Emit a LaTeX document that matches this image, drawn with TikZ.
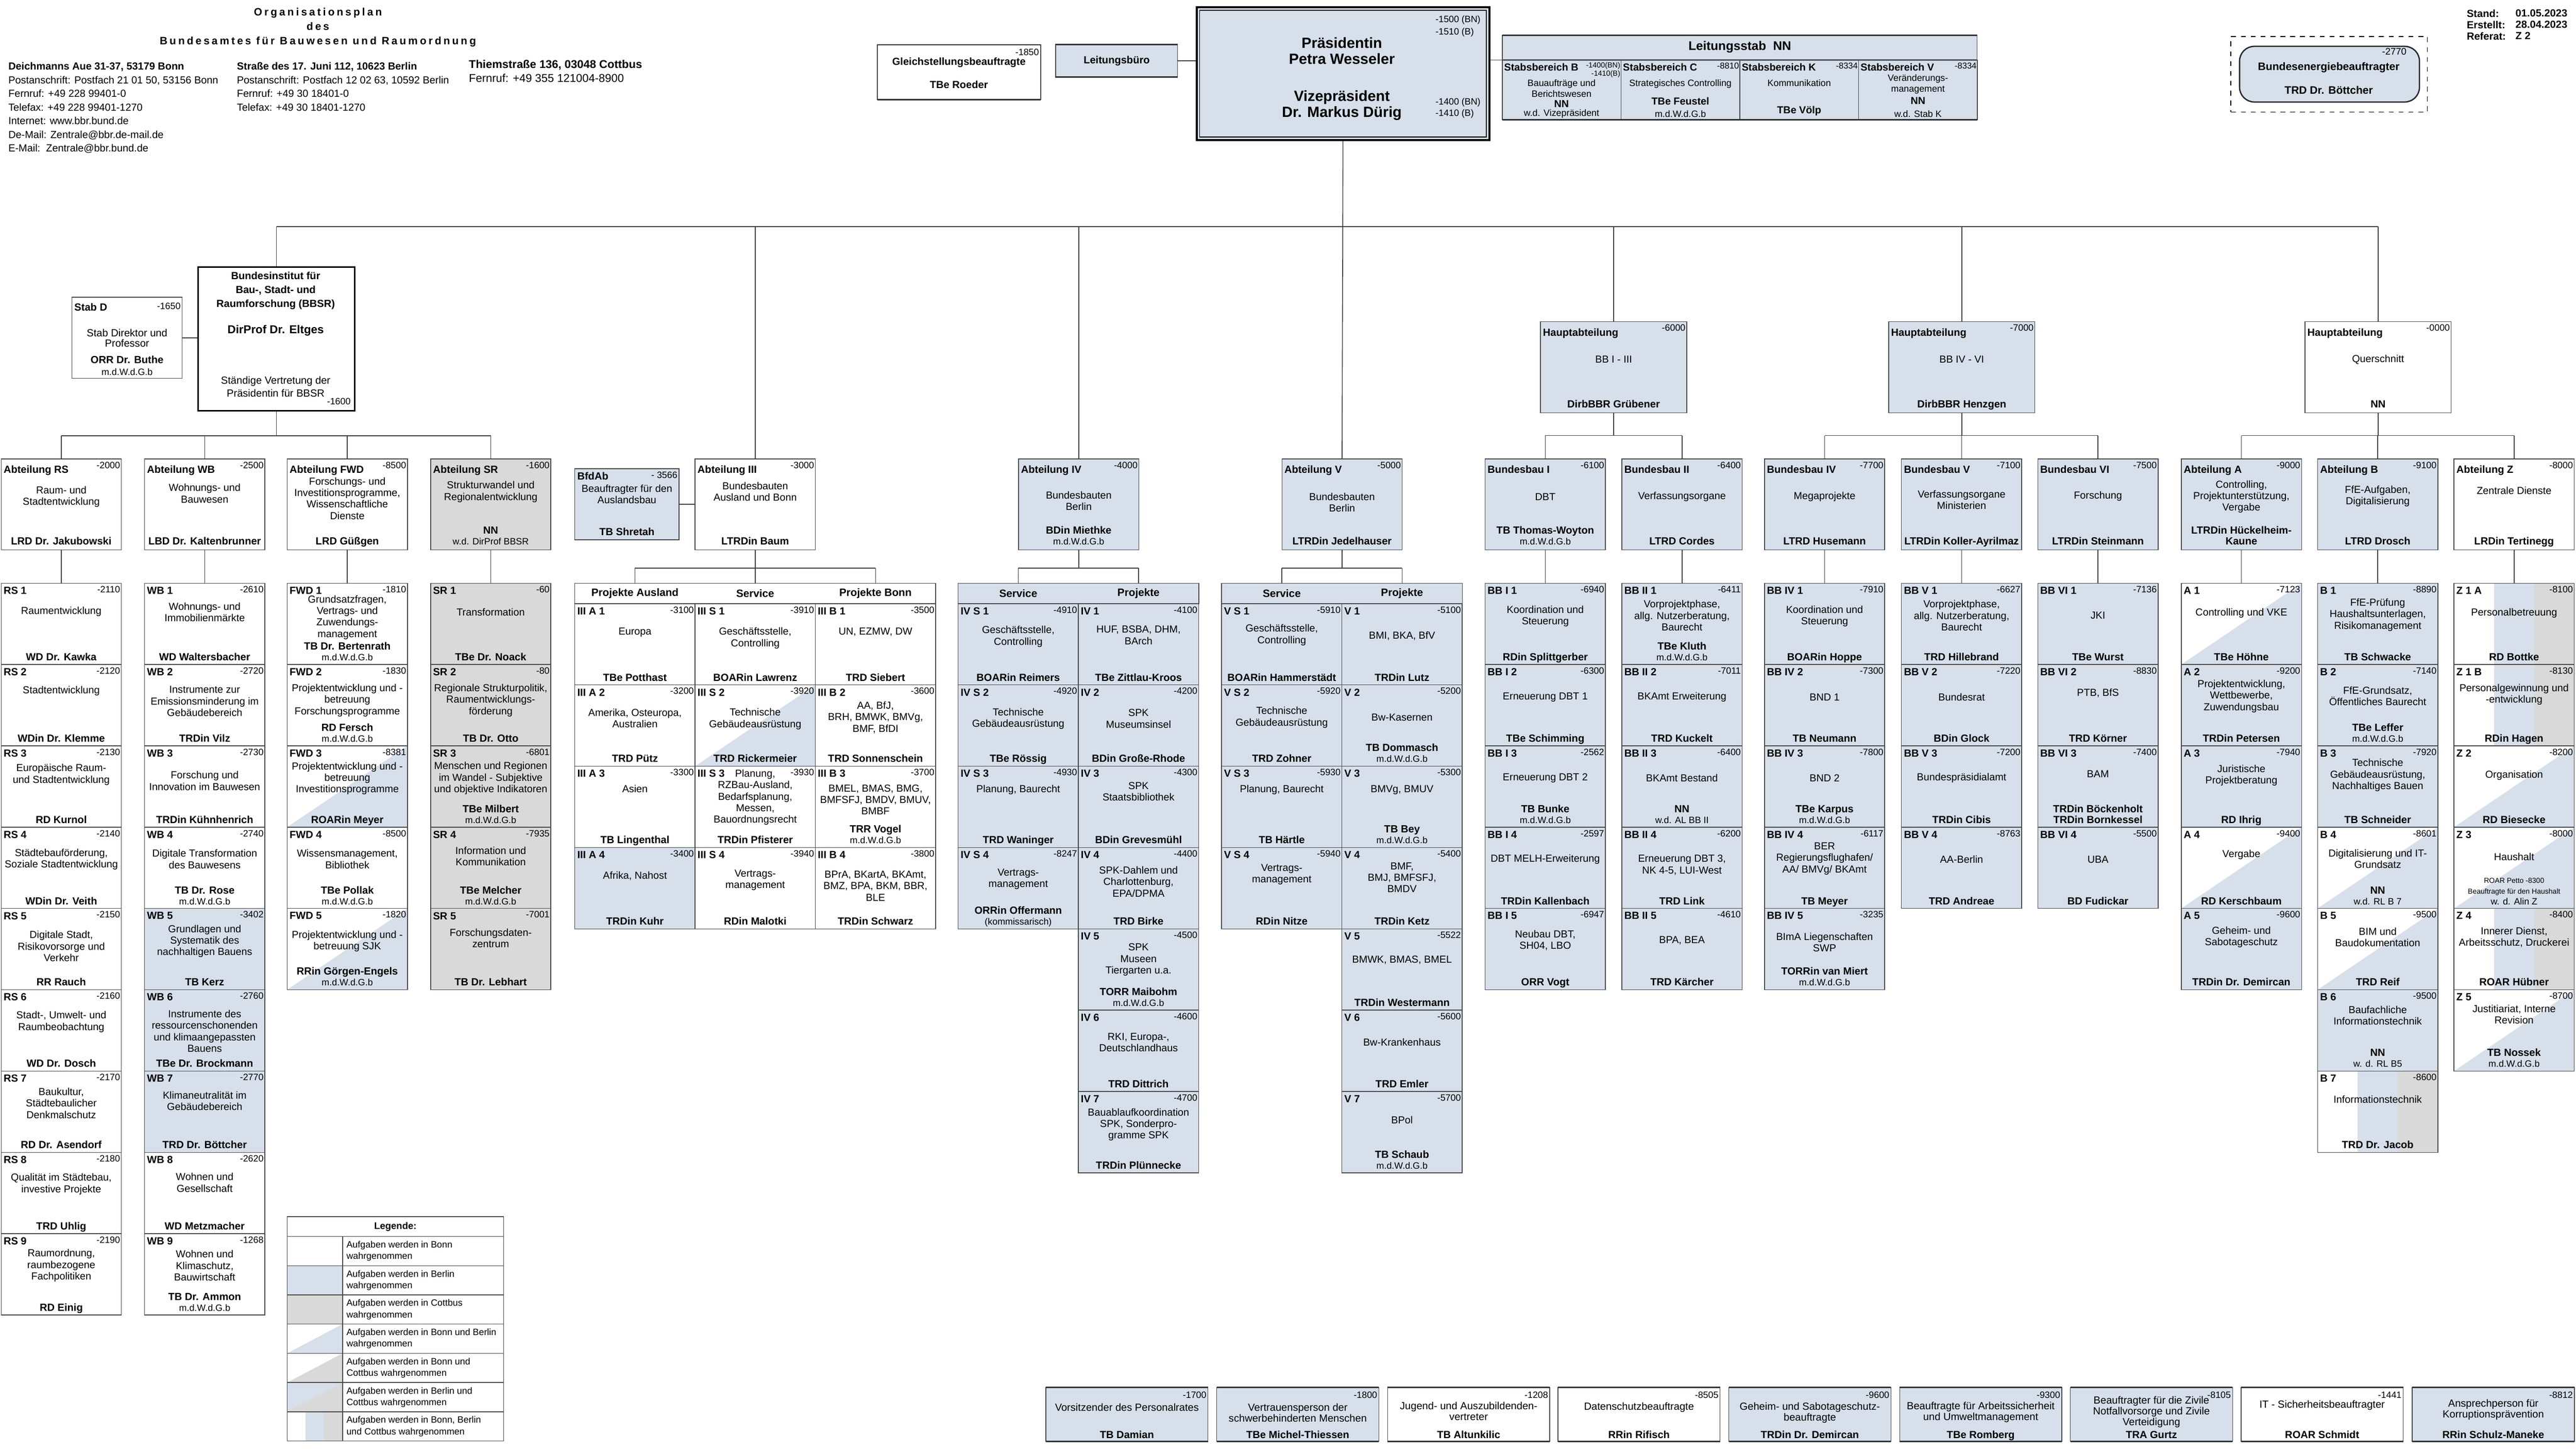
\documentclass[tikz,border=0pt]{standalone}
\usepackage{fontspec}
\setmainfont{Liberation Sans}
\usetikzlibrary{calc}
\definecolor{bfill}{HTML}{D6DFEA}
\definecolor{gfill}{HTML}{D9D9D9}
\definecolor{lc}{HTML}{4A4A4A}
\newcommand\smf{\fontsize{5.6}{6.2}\selectfont\mdseries}
\newcommand\tnf{\fontsize{4.4}{5}\selectfont\mdseries}
\newcommand\titlefont{\fontsize{6.5}{8.7}\selectfont\bfseries\addfontfeature{LetterSpace=20}}
\newcommand\bxw{73.2pt}
\newcommand\bxh{49.5pt}
\newcommand\lbly{2.1pt}
\newcommand\psy{2.2pt}
\tikzset{
 cell/.style={draw=lc,line width=0.45pt,inner sep=0pt,outer sep=0pt},
 wh/.style={fill=white},
 bl/.style={fill=bfill},
 gr/.style={fill=gfill},
 dg/.style={fill=white,path picture={\fill[bfill] (path picture bounding box.south west) -- (path picture bounding box.south east) -- (path picture bounding box.north east) -- cycle;}},
 dgr/.style={fill=white,path picture={\fill[gfill] (path picture bounding box.south west) -- (path picture bounding box.south east) -- (path picture bounding box.north east) -- cycle;}},
 bgr/.style={fill=bfill,path picture={\fill[gfill] (path picture bounding box.south west) -- (path picture bounding box.south east) -- (path picture bounding box.north east) -- cycle;}},
 st/.style={fill=white,path picture={\path (path picture bounding box.south west) coordinate (pp1) (path picture bounding box.north east) coordinate (pp2); \fill[bfill] ($(pp1)!1/3!(pp1-|pp2)$) rectangle ($(pp2)!1/3!(pp2-|pp1)$); \fill[gfill] ($(pp1)!2/3!(pp1-|pp2)$) rectangle (pp2);}},
 conn/.style={draw=black!75,line width=0.5pt},
 tbline/.style={draw=black!80,line width=0.9pt},
 lbl/.style={font=\fontsize{6.3}{7}\selectfont\bfseries,inner sep=0pt},
 num/.style={font=\fontsize{5.6}{6.3}\selectfont,inner sep=0pt},
 desc/.style={font=\fontsize{6.2}{7}\selectfont,align=center,inner sep=0pt},
 pers/.style={font=\fontsize{6.3}{6.6}\selectfont\bfseries,align=center,inner sep=0pt,anchor=south,text depth=0pt},
 hdr/.style={font=\fontsize{6.5}{7}\selectfont\bfseries,inner sep=0pt},
 sl/.style={font=\fontsize{6.2}{6.8}\selectfont\bfseries,inner sep=0pt},
 sd/.style={font=\fontsize{5.6}{6.6}\selectfont,align=center,inner sep=0pt},
 txt/.style={inner sep=0pt},
}
\newcommand\BX[9]{%
 \node[cell,#4,minimum width=\bxw,minimum height=\bxh,anchor=north west] (#1) at (#2,#3) {};
 \node[lbl,anchor=north west] (#1-l) at ([xshift=1.3pt,yshift=-\lbly]#1.north west) {#5};
 \node[num,anchor=north east] (#1-n) at ([xshift=-0.6pt,yshift=-1.6pt]#1.north east) {#6};
 \node[desc] (#1-d) at ([yshift=-#9pt]#1.north) {#7};
 \node[pers] (#1-p) at ([yshift=\psy]#1.south) {#8};
}
\newcommand\BR[7]{%
 \node[cell,#3,minimum width=98.7pt,minimum height=32.9pt,anchor=north west] (#1) at (#2,844.7) {};
 \draw[tbline] (#1.north west) -- (#1.north east) (#1.south west) -- (#1.south east);
 \node[num,anchor=north east] (#1-n) at ([xshift=-0.8pt,yshift=-2.5pt]#1.north east) {#4};
 \node[desc,font=\fontsize{6.3}{6.6}\selectfont] (#1-d) at ([yshift=-#7pt]#1.north) {#5};
 \node[pers] (#1-p) at ([yshift=1.6pt]#1.south) {#6};
}
\newcommand\LG[3]{%
 \node[cell,#2,minimum width=33.7pt,minimum height=17.79pt,anchor=north west] (lgs#1) at (174.8,{752.8+17.79*(#1-1)}) {};
 \node[cell,wh,minimum width=98pt,minimum height=17.79pt,anchor=north west] (lgx#1) at (208.5,{752.8+17.79*(#1-1)}) {};
 \node[font=\fontsize{5.6}{7}\selectfont,align=left,anchor=west,inner sep=0pt] (lgt#1) at ([xshift=2.2pt]lgx#1.west) {#3};
}
\begin{document}
\begin{tikzpicture}[x=1pt,y=-1pt]
\path[fill=white,use as bounding box] (0,0) rectangle (1568,884);

% ---------- header ----------
\node[txt,font=\titlefont,align=center] (title) at (193.5,16.6) {Organisationsplan\\des\\Bundesamtes für Bauwesen und Raumordnung};
\node[txt,font=\fontsize{6.25}{8.3}\selectfont,align=left,anchor=north west] (adr1) at (4.9,37.9) {\textbf{Deichmanns Aue 31-37, 53179 Bonn}\\Postanschrift: Postfach 21 01 50, 53156 Bonn\\Fernruf: +49 228 99401-0\\Telefax: +49 228 99401-1270\\Internet: www.bbr.bund.de\\De-Mail: Zentrale@bbr.de-mail.de\\E-Mail:\ \ Zentrale@bbr.bund.de};
\node[txt,font=\fontsize{6.25}{8.3}\selectfont,align=left,anchor=north west] (adr2) at (144,37.9) {\textbf{Straße des 17. Juni 112, 10623 Berlin}\\Postanschrift: Postfach 12 02 63, 10592 Berlin\\Fernruf: +49 30 18401-0\\Telefax: +49 30 18401-1270};
\node[txt,font=\fontsize{6.9}{8.7}\selectfont,align=left,anchor=north west] (adr3) at (285.2,36.2) {\textbf{Thiemstraße 136, 03048 Cottbus}\\Fernruf: +49 355 121004-8900};
\node[txt,font=\fontsize{6.3}{6.95}\selectfont\bfseries,align=left,anchor=north west] (stand) at (1501.3,5.6) {Stand:\\Erstellt:\\Referat:};
\node[txt,font=\fontsize{6.3}{6.95}\selectfont\bfseries,align=left,anchor=north west] (standv) at (1531,5.6) {01.05.2023\\28.04.2023\\Z 2};

% Gleichstellung
\node[cell,wh,minimum width=99.4pt,minimum height=33.4pt,anchor=north west] (gleich) at (534,27.3) {};
\draw[tbline] (gleich.north west) -- (gleich.north east) (gleich.south west) -- (gleich.south east);
\node[num,anchor=north east] (gleich-n) at ([xshift=-0.8pt,yshift=-2.2pt]gleich.north east) {-1850};
\node[lbl] (gleich-d) at (583.7,37.9) {Gleichstellungsbeauftragte};
\node[lbl] (gleich-p) at (583.7,51.5) {TBe Roeder};

% Leitungsbuero
\node[cell,bl,minimum width=74.2pt,minimum height=20pt,anchor=north west] (lbuero) at (642.6,27) {};
\draw[tbline] (lbuero.north west) -- (lbuero.north east) (lbuero.south west) -- (lbuero.south east);
\node[lbl] (lbuero-t) at (lbuero.center) {Leitungsbüro};

% Praesident
\node[fill=bfill,draw=black,line width=1.2pt,inner sep=0pt,minimum width=178.1pt,minimum height=80.7pt,anchor=north west] (praes) at (727.8,3.9) {};
\draw[line width=0.6pt] ([shift={(2.4pt,-2.4pt)}]praes.north west) rectangle ([shift={(-2.4pt,2.4pt)}]praes.south east);
\node[txt,font=\fontsize{9}{9.6}\selectfont\bfseries,align=center] (praes-a) at (816.8,31) {Präsidentin\\Petra Wesseler};
\node[txt,font=\fontsize{9}{9.6}\selectfont\bfseries,align=center] (praes-b) at (816.8,64.2) {Vizepräsident\\Dr. Markus Dürig};
\node[num,anchor=west] (praes-n1) at (873.6,12.2) {-1500 (BN)};
\node[num,anchor=west] (praes-n2) at (873.6,19.6) {-1510 (B)};
\node[num,anchor=west] (praes-n3) at (873.6,62.4) {-1400 (BN)};
\node[num,anchor=west] (praes-n4) at (873.6,69.4) {-1410 (B)};

% Leitungsstab
\node[cell,bl,minimum width=289.1pt,minimum height=51.3pt,anchor=north west] (lstab) at (914.4,21.6) {};
\node[txt,font=\fontsize{7.6}{8}\selectfont\bfseries] (lstab-t) at (1059,28.7) {Leitungsstab\ \ NN};
\node[cell,bl,minimum width=72.3pt,minimum height=36.4pt,anchor=north west] (lsB) at (914.4,36.5) {};
\node[cell,bl,minimum width=72.3pt,minimum height=36.4pt,anchor=north west] (lsC) at (986.7,36.5) {};
\node[cell,bl,minimum width=72.3pt,minimum height=36.4pt,anchor=north west] (lsK) at (1059.0,36.5) {};
\node[cell,bl,minimum width=72.3pt,minimum height=36.4pt,anchor=north west] (lsV) at (1131.3,36.5) {};
\draw[tbline] (lstab.north west) -- (lstab.north east) (lstab.south west) -- (lstab.south east);
\draw[draw=black!65,line width=0.7pt] (lsB.north west) -- (lsV.north east);
\node[sl,anchor=north west] (lsB-l) at ([xshift=1pt,yshift=-1.9pt]lsB.north west) {Stabsbereich B};
\node[txt,font=\fontsize{4.5}{4.9}\selectfont,align=right,anchor=north east] (lsB-n) at ([xshift=-0.3pt,yshift=-1.3pt]lsB.north east) {-1400(BN)\\-1410(B)};
\node[sd] (lsB-d) at (950.5,53.9) {Bauaufträge und\\Berichtswesen};
\node[sl] (lsB-p) at (950.5,63.3) {NN};
\node[sd] (lsB-s) at (950.5,69.4) {w.d. Vizepräsident};
\node[sl,anchor=north west] (lsC-l) at ([xshift=1pt,yshift=-1.9pt]lsC.north west) {Stabsbereich C};
\node[txt,font=\fontsize{5.2}{6}\selectfont,anchor=north east] (lsC-n) at ([xshift=-0.3pt,yshift=-1.6pt]lsC.north east) {-8810};
\node[sd] (lsC-d) at (1022.85,51.1) {Strategisches Controlling};
\node[sl] (lsC-p) at (1022.85,61.5) {TBe Feustel};
\node[sd] (lsC-s) at (1022.85,69.4) {m.d.W.d.G.b};
\node[sl,anchor=north west] (lsK-l) at ([xshift=1pt,yshift=-1.9pt]lsK.north west) {Stabsbereich K};
\node[txt,font=\fontsize{5.2}{6}\selectfont,anchor=north east] (lsK-n) at ([xshift=-0.3pt,yshift=-1.6pt]lsK.north east) {-8334};
\node[sd] (lsK-d) at (1095.15,50.6) {Kommunikation};
\node[sl] (lsK-p) at (1095.15,67.6) {TBe Völp};
\node[sl,anchor=north west] (lsV-l) at ([xshift=1pt,yshift=-1.9pt]lsV.north west) {Stabsbereich V};
\node[txt,font=\fontsize{5.2}{6}\selectfont,anchor=north east] (lsV-n) at ([xshift=-0.3pt,yshift=-1.6pt]lsV.north east) {-8334};
\node[sd] (lsV-d) at (1167.45,51.3) {Veränderungs-\\management};
\node[sl] (lsV-p) at (1167.45,61.5) {NN};
\node[sd] (lsV-s) at (1167.45,69.4) {w.d. Stab K};

% Bundesenergiebeauftragter
\node[draw=black,dashed,line width=0.6pt,inner sep=0pt,minimum width=119.5pt,minimum height=46pt,anchor=north west] (bebf) at (1357.7,21.9) {};
\node[fill=bfill,draw=black!85,line width=0.8pt,rounded corners=9pt,inner sep=0pt,minimum width=109.5pt,minimum height=33.9pt,anchor=north west] (beb) at (1362.8,27.8) {};
\node[txt,font=\fontsize{5.8}{6.5}\selectfont,anchor=east] (beb-n) at (1465,31.4) {-2770};
\node[txt,font=\fontsize{6.6}{7}\selectfont\bfseries] (beb-d) at (1417.5,41) {Bundesenergiebeauftragter};
\node[txt,font=\fontsize{6.6}{7}\selectfont\bfseries] (beb-p) at (1417.5,55) {TRD Dr. Böttcher};

% ---------- BBSR ----------
\node[fill=white,draw=black,line width=1pt,inner sep=0pt,minimum width=95.4pt,minimum height=87.5pt,anchor=north west] (bbsr) at (120.1,162) {};
\node[txt,font=\fontsize{6.3}{8.4}\selectfont\bfseries,align=center] (bbsr-a) at (167.8,177) {Bundesinstitut für\\Bau-, Stadt- und\\Raumforschung (BBSR)};
\node[txt,font=\fontsize{7}{8}\selectfont\bfseries] (bbsr-b) at (167.8,201.4) {DirProf Dr. Eltges};
\node[txt,font=\fontsize{6.3}{7.9}\selectfont,align=center] (bbsr-c) at (167.8,235.4) {Ständige Vertretung der\\Präsidentin für BBSR};
\node[num,anchor=east] (bbsr-n) at (213.6,244.3) {-1600};

\node[cell,wh,minimum width=67.1pt,minimum height=49.4pt,anchor=north west] (stabD) at (43.8,181) {};
\node[lbl,anchor=north west] (stabD-l) at ([xshift=1.3pt,yshift=-3.4pt]stabD.north west) {Stab D};
\node[num,anchor=north east] (stabD-n) at ([xshift=-0.8pt,yshift=-3.2pt]stabD.north east) {-1650};
\node[desc,font=\fontsize{6.3}{6.3}\selectfont] (stabD-d) at (77.35,205.8) {Stab Direktor und\\Professor};
\node[lbl] (stabD-p) at (77.35,219) {ORR Dr. Buthe};
\node[txt,font=\smf] (stabD-s) at (77.35,226.5) {m.d.W.d.G.b};

% ---------- BfdAb ----------
\node[cell,bl,minimum width=63.4pt,minimum height=43.2pt,anchor=north west] (bfdab) at (349.9,285.4) {};
\node[lbl,anchor=north west] (bfdab-l) at ([xshift=1.3pt,yshift=-1.9pt]bfdab.north west) {BfdAb};
\node[num,anchor=north east] (bfdab-n) at ([xshift=-0.8pt,yshift=-1.6pt]bfdab.north east) {- 3566};
\node[desc] (bfdab-d) at (381.6,300.9) {Beauftragter für den\\Auslandsbau};
\node[lbl] (bfdab-p) at (381.6,323.6) {TB Shretah};

% ---------- Abteilungen ----------
\renewcommand\bxh{55.3pt}\renewcommand\lbly{3.9pt}\renewcommand\psy{3pt}
\BX{abtRS}{0.7}{279.4}{wh}{Abteilung RS}{-2000}{Raum- und\\Stadtentwicklung}{LRD Dr. Jakubowski}{23}
\BX{abtWB}{88.0}{279.4}{wh}{Abteilung WB}{-2500}{Wohnungs- und\\Bauwesen}{LBD Dr. Kaltenbrunner}{21}
\BX{abtFWD}{174.8}{279.4}{wh}{Abteilung FWD}{-8500}{Forschungs- und\\Investitionsprogramme,\\Wissenschaftliche\\Dienste}{LRD Güßgen}{24}
\BX{abtSR}{262.1}{279.4}{gr}{Abteilung SR}{-1600}{Strukturwandel und\\Regionalentwicklung}{NN\\{\smf w.d. DirProf BBSR}}{20}
\BX{abtIII}{423.1}{279.4}{wh}{Abteilung III}{-3000}{Bundesbauten\\Ausland und Bonn}{LTRDin Baum}{20}
\BX{abtIV}{620.0}{279.4}{bl}{Abteilung IV}{-4000}{Bundesbauten\\Berlin}{BDin Miethke\\{\smf m.d.W.d.G.b}}{25.5}
\BX{abtV}{780.3}{279.4}{bl}{Abteilung V}{-5000}{Bundesbauten\\Berlin}{LTRDin Jedelhauser}{26.5}
\BX{bb1}{904.0}{279.4}{bl}{Bundesbau I}{-6100}{DBT}{TB Thomas-Woyton\\{\smf m.d.W.d.G.b}}{23}
\BX{bb2}{987.2}{279.4}{bl}{Bundesbau II}{-6400}{Verfassungsorgane}{LTRD Cordes}{23}
\BX{bb4}{1074.0}{279.4}{bl}{Bundesbau IV}{-7700}{Megaprojekte}{LTRD Husemann}{23}
\BX{bb5}{1157.4}{279.4}{bl}{Bundesbau V}{-7100}{Verfassungsorgane\\Ministerien}{LTRDin Koller-Ayrilmaz}{25}
\BX{bb6}{1240.4}{279.4}{bl}{Bundesbau VI}{-7500}{Forschung}{LTRDin Steinmann}{22.8}
\BX{abtA}{1327.7}{279.4}{bl}{Abteilung A}{-9000}{Controlling,\\Projektunterstützung,\\Vergabe}{LTRDin Hückelheim-\\Kaune}{23}
\BX{abtB}{1410.7}{279.4}{bl}{Abteilung B}{-9100}{FfE-Aufgaben,\\Digitalisierung}{LTRD Drosch}{22.8}
\BX{abtZ}{1493.7}{279.4}{wh}{Abteilung Z}{-8000}{Zentrale Dienste}{LRDin Tertinegg}{19.3}

\renewcommand\bxw{89pt}\renewcommand\bxh{55.5pt}
\BX{ha1}{937.7}{195.8}{bl}{Hauptabteilung}{-6000}{BB I - III}{DirbBBR Grübener}{23}
\BX{ha2}{1149.6}{195.8}{bl}{Hauptabteilung}{-7000}{BB IV - VI}{DirbBBR Henzgen}{23}
\BX{qs}{1403.0}{195.8}{wh}{Hauptabteilung}{-0000}{Querschnitt}{NN}{23}

% ---------- Referate ----------
\renewcommand\bxw{73.2pt}\renewcommand\bxh{49.5pt}\renewcommand\lbly{2.1pt}\renewcommand\psy{2.2pt}
\BX{RS1}{0.7}{355.1}{wh}{RS 1}{-2110}{Raumentwicklung}{WD Dr. Kawka}{17.3}
\BX{RS2}{0.7}{404.6}{wh}{RS 2}{-2120}{Stadtentwicklung}{WDin Dr. Klemme}{16}
\BX{RS3}{0.7}{454.1}{wh}{RS 3}{-2130}{Europäische Raum-\\und Stadtentwicklung}{RD Kurnol}{17.5}
\BX{RS4}{0.7}{503.6}{wh}{RS 4}{-2140}{Städtebauförderung,\\Soziale Stadtentwicklung}{WDin Dr. Veith}{19.5}
\BX{RS5}{0.7}{553.1}{wh}{RS 5}{-2150}{Digitale Stadt,\\Risikovorsorge und\\Verkehr}{RR Rauch}{23}
\BX{RS6}{0.7}{602.6}{wh}{RS 6}{-2160}{Stadt-, Umwelt- und\\Raumbeobachtung}{WD Dr. Dosch}{19.5}
\BX{RS7}{0.7}{652.1}{wh}{RS 7}{-2170}{Baukultur,\\Städtebaulicher\\Denkmalschutz}{RD Dr. Asendorf}{19.5}
\BX{RS8}{0.7}{701.6}{wh}{RS 8}{-2180}{Qualität im Städtebau,\\investive Projekte}{TRD Uhlig}{19.3}
\BX{RS9}{0.7}{751.1}{wh}{RS 9}{-2190}{Raumordnung,\\raumbezogene\\Fachpolitiken}{RD Einig}{19.4}

\BX{WB1}{88.0}{355.1}{wh}{WB 1}{-2610}{Wohnungs- und\\Immobilienmärkte}{WD Waltersbacher}{17.5}
\BX{WB2}{88.0}{404.6}{wh}{WB 2}{-2720}{Instrumente zur\\Emissionsminderung im\\Gebäudebereich}{TRDin Vilz}{22.3}
\BX{WB3}{88.0}{454.1}{wh}{WB 3}{-2730}{Forschung und\\Innovation im Bauwesen}{TRDin Kühnhenrich}{21.3}
\BX{WB4}{88.0}{503.6}{wh}{WB 4}{-2740}{Digitale Transformation\\des Bauwesens}{TB Dr. Rose\\{\smf m.d.W.d.G.b}}{19.5}
\BX{WB5}{88.0}{553.1}{bl}{WB 5}{-3402}{Grundlagen und\\Systematik des\\nachhaltigen Bauens}{TB Kerz}{20}
\BX{WB6}{88.0}{602.6}{bl}{WB 6}{-2760}{Instrumente des\\ressourcenschonenden\\und klimaangepassten\\Bauens}{TBe Dr. Brockmann}{25.2}
\BX{WB7}{88.0}{652.1}{bl}{WB 7}{-2770}{Klimaneutralität im\\Gebäudebereich}{TRD Dr. Böttcher}{18.2}
\BX{WB8}{88.0}{701.6}{wh}{WB 8}{-2620}{Wohnen und\\Gesellschaft}{WD Metzmacher}{18.4}
\BX{WB9}{88.0}{751.1}{wh}{WB 9}{-1268}{Wohnen und\\Klimaschutz,\\Bauwirtschaft}{TB Dr. Ammon\\{\smf m.d.W.d.G.b}}{19.4}

\BX{FWD1}{174.8}{355.1}{wh}{FWD 1}{-1810}{Grundsatzfragen,\\Vertrags- und\\Zuwendungs-\\management}{TB Dr. Bertenrath\\{\smf m.d.W.d.G.b}}{20.8}
\BX{FWD2}{174.8}{404.6}{wh}{FWD 2}{-1830}{Projektentwicklung und -\\betreuung\\Forschungsprogramme}{RD Fersch\\{\smf m.d.W.d.G.b}}{21.8}
\BX{FWD3}{174.8}{454.1}{dg}{FWD 3}{-8381}{Projektentwicklung und -\\betreuung\\Investitionsprogramme}{ROARin Meyer}{19.9}
\BX{FWD4}{174.8}{503.6}{wh}{FWD 4}{-8500}{Wissensmanagement,\\Bibliothek}{TBe Pollak\\{\smf m.d.W.d.G.b}}{19.5}
\BX{FWD5}{174.8}{553.1}{dg}{FWD 5}{-1820}{Projektentwicklung und -\\betreuung SJK}{RRin Görgen-Engels\\{\smf m.d.W.d.G.b}}{19.9}

\BX{SR1}{262.1}{355.1}{gr}{SR 1}{-60}{Transformation}{TBe Dr. Noack}{17.5}
\BX{SR2}{262.1}{404.6}{gr}{SR 2}{-80}{Regionale Strukturpolitik,\\Raumentwicklungs-\\förderung}{TB Dr. Otto}{21.8}
\BX{SR3}{262.1}{454.1}{gr}{SR 3}{-6801}{Menschen und Regionen\\im Wandel - Subjektive\\und objektive Indikatoren}{TBe Milbert\\{\smf m.d.W.d.G.b}}{19.8}
\BX{SR4}{262.1}{503.6}{gr}{SR 4}{-7935}{Information und\\Kommunikation}{TBe Melcher\\{\smf m.d.W.d.G.b}}{17.8}
\BX{SR5}{262.1}{553.1}{gr}{SR 5}{-7001}{Forschungsdaten-\\zentrum}{TB Dr. Lebhart}{18}

% III table
\node[cell,wh,minimum width=219.6pt,minimum height=12.4pt,anchor=north west] (hdIII) at (349.9,355.1) {};
\node[hdr] (hdIII-a) at (386.5,361.3) {Projekte Ausland};
\node[hdr] (hdIII-b) at (459.7,361.3) {Service};
\node[hdr] (hdIII-c) at (532.9,361.3) {Projekte Bonn};
\BX{IIIA1}{349.9}{367.5}{wh}{III A 1}{-3100}{Europa}{TBe Potthast}{17.6}
\BX{IIIA2}{349.9}{417.0}{wh}{III A 2}{-3200}{Amerika, Osteuropa,\\Australien}{TRD Pütz}{20.3}
\BX{IIIA3}{349.9}{466.5}{wh}{III A 3}{-3300}{Asien}{TB Lingenthal}{13.6}
\BX{IIIA4}{349.9}{516.0}{bl}{III A 4}{-3400}{Afrika, Nahost}{TRDin Kuhr}{17.2}
\BX{IIIS1}{423.1}{367.5}{wh}{III S 1}{-3910}{Geschäftsstelle,\\Controlling}{BOARin Lawrenz}{21}
\BX{IIIS2}{423.1}{417.0}{dg}{III S 2}{-3920}{Technische\\Gebäudeausrüstung}{TRD Rickermeier}{20.7}
\BX{IIIS3}{423.1}{466.5}{wh}{III S 3}{-3930}{Planung,\\RZBau-Ausland,\\Bedarfsplanung,\\Messen,\\Bauordnungsrecht}{TRDin Pfisterer}{19}
\BX{IIIS4}{423.1}{516.0}{wh}{III S 4}{-3940}{Vertrags-\\management}{RDin Malotki}{19.9}
\BX{IIIB1}{496.3}{367.5}{wh}{III B 1}{-3500}{UN, EZMW, DW}{TRD Siebert}{17.2}
\BX{IIIB2}{496.3}{417.0}{wh}{III B 2}{-3600}{AA, BfJ,\\BRH, BMWK, BMVg,\\BMF, BfDI}{TRD Sonnenschein}{19.8}
\BX{IIIB3}{496.3}{466.5}{wh}{III B 3}{-3700}{BMEL, BMAS, BMG,\\BMFSFJ, BMDV, BMUV,\\BMBF}{TRR Vogel\\{\smf m.d.W.d.G.b}}{20.4}
\BX{IIIB4}{496.3}{516.0}{wh}{III B 4}{-3800}{BPrA, BKartA, BKAmt,\\BMZ, BPA, BKM, BBR,\\BLE}{TRDin Schwarz}{23.4}

% IV table
\node[cell,bl,minimum width=146.6pt,minimum height=12.4pt,anchor=north west] (hdIV) at (583.2,355.1) {};
\node[hdr] (hdIV-a) at (619.8,361.3) {Service};
\node[hdr] (hdIV-b) at (693.0,361.3) {Projekte};
\BX{IVS1}{583.2}{367.5}{bl}{IV S 1}{-4910}{Geschäftsstelle,\\Controlling}{BOARin Reimers}{20.1}
\BX{IVS2}{583.2}{417.0}{bl}{IV S 2}{-4920}{Technische\\Gebäudeausrüstung}{TBe Rössig}{20.5}
\BX{IVS3}{583.2}{466.5}{bl}{IV S 3}{-4930}{Planung, Baurecht}{TRD Waninger}{14.4}
\BX{IVS4}{583.2}{516.0}{bl}{IV S 4}{-8247}{Vertrags-\\management}{ORRin Offermann\\{\smf (kommissarisch)}}{19.3}
\BX{IV1}{656.4}{367.5}{bl}{IV 1}{-4100}{HUF, BSBA, DHM,\\BArch}{TBe Zittlau-Kroos}{19.2}
\BX{IV2}{656.4}{417.0}{bl}{IV 2}{-4200}{SPK\\Museumsinsel}{BDin Große-Rhode}{20.5}
\BX{IV3}{656.4}{466.5}{bl}{IV 3}{-4300}{SPK\\Staatsbibliothek}{BDin Grevesmühl}{15.5}
\BX{IV4}{656.4}{516.0}{bl}{IV 4}{-4400}{SPK-Dahlem und\\Charlottenburg,\\EPA/DPMA}{TRD Birke}{20.8}
\BX{IV5}{656.4}{565.5}{bl}{IV 5}{-4500}{SPK\\Museen\\Tiergarten u.a.}{TORR Maibohm\\{\smf m.d.W.d.G.b}}{18.8}
\BX{IV6}{656.4}{615.0}{bl}{IV 6}{-4600}{RKI, Europa-,\\Deutschlandhaus}{TRD Dittrich}{19.6}
\BX{IV7}{656.4}{664.5}{bl}{IV 7}{-4700}{Bauablaufkoordination\\SPK, Sonderpro-\\gramme SPK}{TRDin Plünnecke}{20.2}

% V table
\node[cell,bl,minimum width=146.6pt,minimum height=12.4pt,anchor=north west] (hdV) at (743.6,355.1) {};
\node[hdr] (hdV-a) at (780.2,361.3) {Service};
\node[hdr] (hdV-b) at (853.4,361.3) {Projekte};
\BX{VS1}{743.6}{367.5}{bl}{V S 1}{-5910}{Geschäftsstelle,\\Controlling}{BOARin Hammerstädt}{19.1}
\BX{VS2}{743.6}{417.0}{bl}{V S 2}{-5920}{Technische\\Gebäudeausrüstung}{TRD Zohner}{19.8}
\BX{VS3}{743.6}{466.5}{bl}{V S 3}{-5930}{Planung, Baurecht}{TB Härtle}{14.4}
\BX{VS4}{743.6}{516.0}{bl}{V S 4}{-5940}{Vertrags-\\management}{RDin Nitze}{16.3}
\BX{V1}{816.8}{367.5}{bl}{V 1}{-5100}{BMI, BKA, BfV}{TRDin Lutz}{19.8}
\BX{V2}{816.8}{417.0}{bl}{V 2}{-5200}{Bw-Kasernen}{TB Dommasch\\{\smf m.d.W.d.G.b}}{19.7}
\BX{V3}{816.8}{466.5}{bl}{V 3}{-5300}{BMVg, BMUV}{TB Bey\\{\smf m.d.W.d.G.b}}{14.4}
\BX{V4}{816.8}{516.0}{bl}{V 4}{-5400}{BMF,\\BMJ, BMFSFJ,\\BMDV}{TRDin Ketz}{18.3}
\BX{V5}{816.8}{565.5}{bl}{V 5}{-5522}{BMWK, BMAS, BMEL}{TRDin Westermann}{19.1}
\BX{V6}{816.8}{615.0}{bl}{V 6}{-5600}{Bw-Krankenhaus}{TRD Emler}{19.6}
\BX{V7}{816.8}{664.5}{bl}{V 7}{-5700}{BPol}{TB Schaub\\{\smf m.d.W.d.G.b}}{17.5}

% BB
\BX{BBI1}{904.0}{355.1}{bl}{BB I 1}{-6940}{Koordination und\\Steuerung}{RDin Splittgerber}{20}
\BX{BBI2}{904.0}{404.6}{bl}{BB I 2}{-6300}{Erneuerung DBT 1}{TBe Schimming}{19.8}
\BX{BBI3}{904.0}{454.1}{bl}{BB I 3}{-2562}{Erneuerung DBT 2}{TB Bunke\\{\smf m.d.W.d.G.b}}{19.5}
\BX{BBI4}{904.0}{503.6}{bl}{BB I 4}{-2597}{DBT MELH-Erweiterung}{TRDin Kallenbach}{19.5}
\BX{BBI5}{904.0}{553.1}{bl}{BB I 5}{-6947}{Neubau DBT,\\SH04, LBO}{ORR Vogt}{19.4}
\BX{BBII1}{987.2}{355.1}{bl}{BB II 1}{-6411}{Vorprojektphase,\\allg. Nutzerberatung,\\Baurecht}{TBe Kluth\\{\smf m.d.W.d.G.b}}{19.7}
\BX{BBII2}{987.2}{404.6}{bl}{BB II 2}{-7011}{BKAmt Erweiterung}{TRD Kuckelt}{19.8}
\BX{BBII3}{987.2}{454.1}{bl}{BB II 3}{-6400}{BKAmt Bestand}{NN\\{\smf w.d. AL BB II}}{19.5}
\BX{BBII4}{987.2}{503.6}{bl}{BB II 4}{-6200}{Erneuerung DBT 3,\\NK 4-5, LUI-West}{TRD Link}{23}
\BX{BBII5}{987.2}{553.1}{bl}{BB II 5}{-4610}{BPA, BEA}{TRD Kärcher}{19.5}
\BX{BBIV1}{1074.0}{355.1}{bl}{BB IV 1}{-7910}{Koordination und\\Steuerung}{BOARin Hoppe}{20}
\BX{BBIV2}{1074.0}{404.6}{bl}{BB IV 2}{-7300}{BND 1}{TB Neumann}{19.8}
\BX{BBIV3}{1074.0}{454.1}{bl}{BB IV 3}{-7800}{BND 2}{TBe Karpus\\{\smf m.d.W.d.G.b}}{19.5}
\BX{BBIV4}{1074.0}{503.6}{bl}{BB IV 4}{-6117}{BER\\Regierungsflughafen/\\AA/ BMVg/ BKAmt}{TB Meyer}{19.2}
\BX{BBIV5}{1074.0}{553.1}{bl}{BB IV 5}{-3235}{BImA Liegenschaften\\SWP}{TORRin van Miert\\{\smf m.d.W.d.G.b}}{20.7}
\BX{BBV1}{1157.4}{355.1}{bl}{BB V 1}{-6627}{Vorprojektphase,\\allg. Nutzerberatung,\\Baurecht}{TRD Hillebrand}{19.7}
\BX{BBV2}{1157.4}{404.6}{bl}{BB V 2}{-7220}{Bundesrat}{BDin Glock}{19.8}
\BX{BBV3}{1157.4}{454.1}{bl}{BB V 3}{-7200}{Bundespräsidialamt}{TRDin Cibis}{19.5}
\BX{BBV4}{1157.4}{503.6}{bl}{BB V 4}{-8763}{AA-Berlin}{TRD Andreae}{19.5}
\BX{BBVI1}{1240.4}{355.1}{bl}{BB VI 1}{-7136}{JKI}{TBe Wurst}{19.6}
\BX{BBVI2}{1240.4}{404.6}{bl}{BB VI 2}{-8830}{PTB, BfS}{TRD Körner}{17.5}
\BX{BBVI3}{1240.4}{454.1}{bl}{BB VI 3}{-7400}{BAM}{TRDin Böckenholt\\TRDin Bornkessel}{17}
\BX{BBVI4}{1240.4}{503.6}{bl}{BB VI 4}{-5500}{UBA}{BD Fudickar}{19.6}

% A B Z
\BX{A1}{1327.7}{355.1}{dg}{A 1}{-7123}{Controlling und VKE}{TBe Höhne}{18.3}
\BX{A2}{1327.7}{404.6}{bl}{A 2}{-9200}{Projektentwicklung,\\Wettbewerbe,\\Zuwendungsbau}{TRDin Petersen}{19.3}
\BX{A3}{1327.7}{454.1}{bl}{A 3}{-7940}{Juristische\\Projektberatung}{RD Ihrig}{17.9}
\BX{A4}{1327.7}{503.6}{dg}{A 4}{-9400}{Vergabe}{RD Kerschbaum}{16.8}
\BX{A5}{1327.7}{553.1}{bl}{A 5}{-9600}{Geheim- und\\Sabotageschutz}{TRDin Dr. Demircan}{17.4}
\BX{B1}{1410.7}{355.1}{bl}{B 1}{-8890}{FfE-Prüfung\\Haushaltsunterlagen,\\Risikomanagement}{TB Schwacke}{19.2}
\BX{B2}{1410.7}{404.6}{bl}{B 2}{-7140}{FfE-Grundsatz,\\Öffentliches Baurecht}{TBe Leffer\\{\smf m.d.W.d.G.b}}{19.1}
\BX{B3}{1410.7}{454.1}{bl}{B 3}{-7920}{Technische\\Gebäudeausrüstung,\\Nachhaltiges Bauen}{TB Schneider}{17.9}
\BX{B4}{1410.7}{503.6}{dg}{B 4}{-8601}{Digitalisierung und IT-\\Grundsatz}{NN\\{\smf w.d. RL B 7}}{19.4}
\BX{B5}{1410.7}{553.1}{dg}{B 5}{-9500}{BIM und\\Baudokumentation}{TRD Reif}{17.4}
\BX{B6}{1410.7}{602.6}{bl}{B 6}{-9500}{Baufachliche\\Informationstechnik}{NN\\{\smf w. d. RL B5}}{15.6}
\BX{B7}{1410.7}{652.1}{st}{B 7}{-8600}{Informationstechnik}{TRD Dr. Jacob}{17.4}
\BX{Z1A}{1493.7}{355.1}{st}{Z 1 A}{-8100}{Personalbetreuung}{RD Bottke}{18.3}
\BX{Z1B}{1493.7}{404.6}{st}{Z 1 B}{-8130}{Personalgewinnung und\\-entwicklung}{RDin Hagen}{18.3}
\BX{Z2}{1493.7}{454.1}{dg}{Z 2}{-8200}{Organisation}{RD Biesecke}{17.9}
\BX{Z3}{1493.7}{503.6}{dg}{Z 3}{-8000}{Haushalt}{{\tnf ROAR Petto -8300}\\{\tnf Beauftragte für den Haushalt}\\{\smf w. d. Alin Z}}{17.9}
\BX{Z4}{1493.7}{553.1}{st}{Z 4}{-8400}{Innerer Dienst,\\Arbeitsschutz, Druckerei}{ROAR Hübner}{17.6}
\BX{Z5}{1493.7}{602.6}{dg}{Z 5}{-8700}{Justitiariat, Interne\\Revision}{TB Nossek\\{\smf m.d.W.d.G.b}}{15.1}

% ---------- connectors ----------
\coordinate (busM) at (0,138);
\coordinate (busB) at (0,265.3);
\coordinate (bus3) at (0,345.9);
\coordinate (busH) at (0,265.2);
\draw[conn] (praes.south) -- (abtV.north);
\draw[conn] (bbsr.north |- busM) -- (qs.north |- busM);
\foreach \n in {bbsr,abtIII,abtIV,ha1,ha2,qs} \draw[conn] (\n.north) -- (\n.north |- busM);
\draw[conn] (lbuero.east) -- (lbuero.east -| praes.west);
\draw[conn] (lsB.north west) -- (lsB.north west -| praes.east);
\draw[conn] (stabD.east) -- (stabD.east -| bbsr.west);
\draw[conn] (bbsr.south) -- (bbsr.south |- busB);
\draw[conn] (abtRS.north |- busB) -- (abtSR.north |- busB);
\foreach \n in {abtRS,abtWB,abtFWD,abtSR} \draw[conn] (\n.north) -- (\n.north |- busB);
\foreach \a/\b in {abtRS/RS1,abtWB/WB1,abtFWD/FWD1,abtSR/SR1,bb1/BBI1,bb2/BBII1,bb4/BBIV1,bb5/BBV1,bb6/BBVI1,abtA/A1,abtB/B1,abtZ/Z1A} \draw[conn] (\a.south) -- (\b.north);
\draw[conn] (bfdab.east) -- (bfdab.east -| abtIII.west);
\draw[conn] (abtIII.south) -- (abtIII.south |- bus3);
\draw[conn] (IIIA1.north |- bus3) -- (IIIB1.north |- bus3);
\foreach \n in {IIIA1,IIIS1,IIIB1} \draw[conn] (\n.north |- bus3) -- (\n.north |- hdIII.north);
\draw[conn] (abtIV.south) -- (abtIV.south |- bus3);
\draw[conn] (IVS1.north |- bus3) -- (IV1.north |- bus3);
\foreach \n in {IVS1,IV1} \draw[conn] (\n.north |- bus3) -- (\n.north |- hdIV.north);
\draw[conn] (abtV.south) -- (abtV.south |- bus3);
\draw[conn] (VS1.north |- bus3) -- (V1.north |- bus3);
\foreach \n in {VS1,V1} \draw[conn] (\n.north |- bus3) -- (\n.north |- hdV.north);
\draw[conn] (ha1.south) -- (ha1.south |- busH);
\draw[conn] (bb1.north |- busH) -- (bb2.north |- busH);
\foreach \n in {bb1,bb2} \draw[conn] (\n.north) -- (\n.north |- busH);
\draw[conn] (ha2.south) -- (ha2.south |- busH);
\draw[conn] (bb4.north |- busH) -- (bb6.north |- busH);
\foreach \n in {bb4,bb5,bb6} \draw[conn] (\n.north) -- (\n.north |- busH);
\draw[conn] (qs.south) -- (qs.south |- busH);
\draw[conn] (abtA.north |- busH) -- (abtZ.north |- busH);
\foreach \n in {abtA,abtB,abtZ} \draw[conn] (\n.north) -- (\n.north |- busH);

% ---------- legend ----------
\node[cell,wh,minimum width=131.7pt,minimum height=12.1pt,anchor=north west] (lgT) at (174.8,740.7) {};
\node[txt,font=\fontsize{5.8}{6.5}\selectfont\bfseries] (lgTt) at (lgT.center) {Legende:};
\LG{1}{wh}{Aufgaben werden in Bonn\\wahrgenommen}
\LG{2}{bl}{Aufgaben werden in Berlin\\wahrgenommen}
\LG{3}{gr}{Aufgaben werden in Cottbus\\wahrgenommen}
\LG{4}{dg}{Aufgaben werden in Bonn und Berlin\\wahrgenommen}
\LG{5}{dgr}{Aufgaben werden in Bonn und\\Cottbus wahrgenommen}
\LG{6}{bgr}{Aufgaben werden in Berlin und\\Cottbus wahrgenommen}
\LG{7}{st}{Aufgaben werden in Bonn, Berlin\\und Cottbus wahrgenommen}

% ---------- bottom row ----------
\BR{br1}{636.6}{bl}{-1700}{Vorsitzender des Personalrates}{TB Damian}{12}
\BR{br2}{740.6}{bl}{-1800}{Vertrauensperson der\\schwerbehinderten Menschen}{TBe Michel-Thiessen}{15.3}
\BR{br3}{844.6}{wh}{-1208}{Jugend- und Auszubildenden-\\vertreter}{TB Altunkilic}{14.6}
\BR{br4}{948.3}{wh}{-8505}{Datenschutzbeauftragte}{RRin Rifisch}{12}
\BR{br5}{1052.3}{bl}{-9600}{Geheim- und Sabotageschutz-\\beauftragte}{TRDin Dr. Demircan}{15.3}
\BR{br6}{1156.3}{bl}{-9300}{Beauftragte für Arbeitssicherheit\\und Umweltmanagement}{TBe Romberg}{15}
\BR{br7}{1260.2}{bl}{-8105}{Beauftragter für die Zivile\\Notfallvorsorge und Zivile\\Verteidigung}{TRA Gurtz}{15}
\BR{br8}{1364.1}{wh}{-1441}{IT - Sicherheitsbeauftragter}{ROAR Schmidt}{11}
\BR{br9}{1468.3}{bl}{-8812}{Ansprechperson für\\Korruptionsprävention}{RRin Schulz-Maneke}{13.5}
\end{tikzpicture}
\end{document}
